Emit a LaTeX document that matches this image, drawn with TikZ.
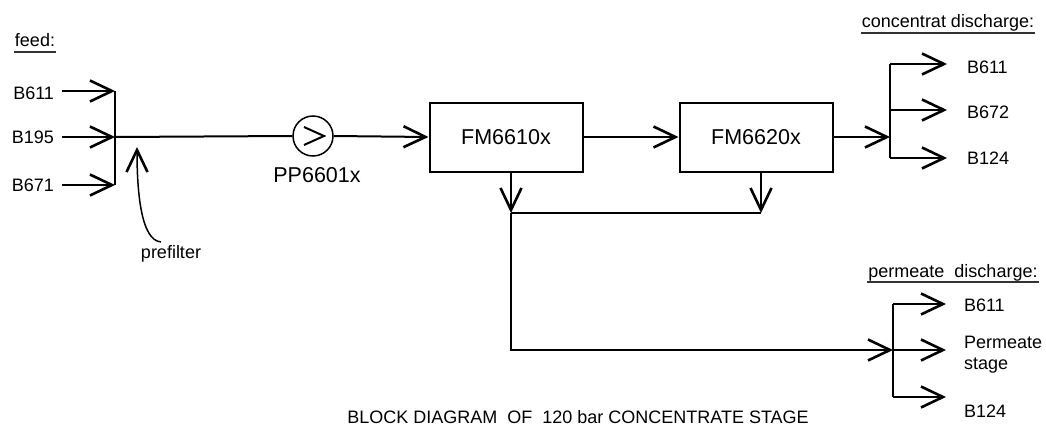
\documentclass[tikz,border=0pt]{standalone}
\usepackage{fontspec}
\setmainfont{Liberation Sans}
\usetikzlibrary{arrows.meta,calc,positioning}

\begin{document}
\begin{tikzpicture}[
    x=1pt,y=-1pt,
    line width=2pt,
    tag/.style={font=\fontsize{18}{21}\selectfont,inner sep=2pt},
    heading/.style={font=\fontsize{18}{21}\selectfont,inner sep=0pt,anchor=base},
    unit/.style={draw,line width=2pt,minimum width=153pt,minimum height=69pt,
      font=\fontsize{21.5}{25}\selectfont},
    pump/.style={draw,circle,line width=1.5pt,minimum size=40pt,inner sep=0pt},
    flow/.style={-{Straight Barb[length=22pt,width=21pt,line width=2.6pt]}},
    rule/.style={line width=2pt,black!80}
  ]
    \useasboundingbox (0,0) rectangle (1046,428);

    % feed side
    \node[heading] (feed) at (35,47) {feed:};
    \draw[rule] ([yshift=-5pt]feed.base west) -- ([yshift=-5pt]feed.base east);
    \coordinate (feedtop) at (115,91);
    \coordinate (feedjoin) at (115,137);
    \coordinate (feedbot) at (115,185);
    \node[tag,anchor=east] (inA) at (57,93) {B611};
    \node[tag,anchor=east] (inB) at (57,137) {B195};
    \node[tag,anchor=east] (inC) at (57,185) {B671};
    \draw[flow,shorten <=5pt] (inA.east |- feedtop) -- (feedtop);
    \draw[flow,shorten <=5pt] (inB.east) -- (feedjoin);
    \draw[flow,shorten <=5pt] (inC.east) -- (feedbot);
    \draw (feedtop) -- (feedbot);

    % prefilter and pump
    \node[tag] (prefilter) at (171,254) {prefilter};
    \coordinate (filtertip) at (137,147);
    \draw[flow,line width=1.5pt,shorten <=10pt] (prefilter.north)
      .. controls +(-30,-2) and +(0,45) .. (filtertip);
    \node[pump] (pp) at (313,136) {};
    \draw ($(pp.center)+(-9,-9)$) -- ($(pp.center)+(11,0)$) -- ($(pp.center)+(-9,9)$);
    \node[font=\fontsize{21.5}{25}\selectfont,inner sep=2pt,below=8pt of pp,xshift=4pt]
      (pplabel) {PP6601x};
    \draw (feedjoin) -- (pp.west);

    % membrane units
    \node[unit] (fm1) at (506,137) {FM6610x};
    \node[unit] (fm2) at (756,137) {FM6620x};
    \draw[flow] (pp.east) -- (fm1.west);
    \draw[flow] (fm1.east) -- (fm2.west);

    % concentrate discharge
    \node[heading] (conchead) at (948,28) {concentrat discharge:};
    \draw[rule] ([yshift=-5pt]conchead.base west) -- ([yshift=-5pt]conchead.base east);
    \coordinate (concjoin) at (890,137);
    \coordinate (conctop) at (890,64);
    \coordinate (concmid) at (890,110);
    \coordinate (concbot) at (890,158);
    \coordinate (concA) at (947,64);
    \coordinate (concB) at (947,110);
    \coordinate (concC) at (947,158);
    \draw[flow] (fm2.east) -- (concjoin);
    \draw (conctop) -- (concbot);
    \draw[flow] (conctop) -- (concA);
    \draw[flow] (concmid) -- (concB);
    \draw[flow] (concbot) -- (concC);
    \node[tag,right=17pt of concA,yshift=-3pt] (outA) {B611};
    \node[tag,right=17pt of concB,yshift=-2pt] (outB) {B672};
    \node[tag,right=17pt of concC] (outC) {B124};

    % permeate collector
    \coordinate (colA) at (511,213);
    \coordinate (colB) at (761,213);
    \draw[flow] (fm1.south -| colA) -- (colA);
    \draw[flow] (fm2.south -| colB) -- (colB);
    \draw (colA) -- (colB);

    % permeate discharge
    \node[heading] (permhead) at (953,277) {permeate\ \ discharge:};
    \draw[rule] ([yshift=-5pt]permhead.base west) -- ([yshift=-5pt]permhead.base east);
    \coordinate (permjoin) at (893,350);
    \coordinate (permtop) at (893,304);
    \coordinate (permbot) at (893,397);
    \coordinate (permA) at (946,304);
    \coordinate (permB) at (946,350);
    \coordinate (permC) at (946,397);
    \draw[flow] (colA) |- (permjoin);
    \draw (permtop) -- (permbot);
    \draw[flow] (permtop) -- (permA);
    \draw[flow] (permjoin) -- (permB);
    \draw[flow] (permbot) -- (permC);
    \node[tag,right=15pt of permA,yshift=-1pt] (pB611) {B611};
    \node[tag,align=left,right=15pt of permB,yshift=-5pt] (pstage) {Permeate\\stage};
    \node[tag,right=15pt of permC,yshift=-14pt] (pB124) {B124};

    \node[tag] (caption) at (578,417) {BLOCK DIAGRAM\ \ OF\ \ 120 bar CONCENTRATE STAGE};
  \end{tikzpicture}
\end{document}
